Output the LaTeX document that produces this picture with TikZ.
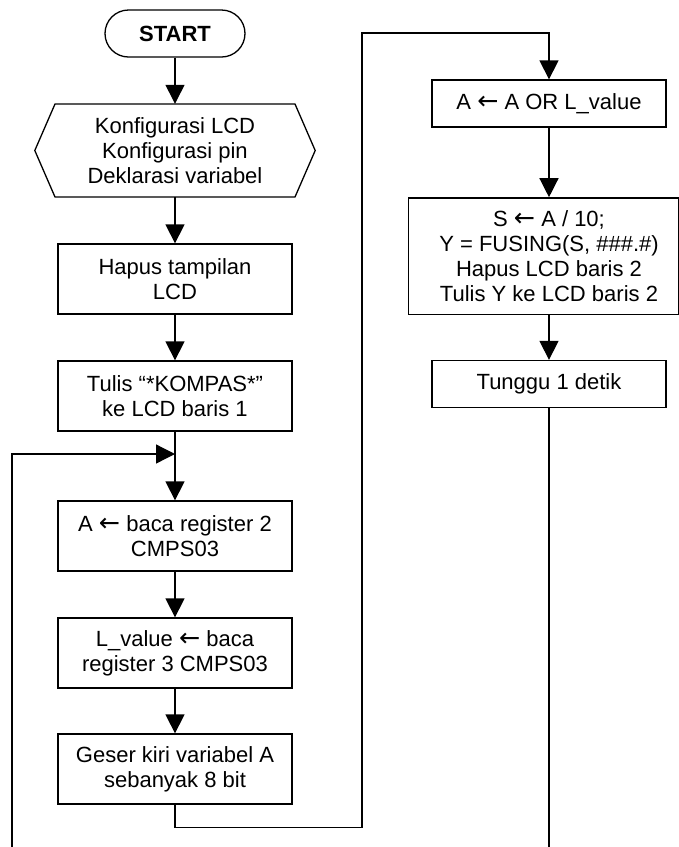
\documentclass[tikz,border=0pt]{standalone}
\usepackage{fontspec}
\setmainfont{Liberation Sans}
\newfontfamily\arrfont{DejaVu Sans}[Scale=1.15]
\newcommand{\larr}{{\arrfont ←}}
\usetikzlibrary{arrows.meta}
\begin{document}
\begin{tikzpicture}[x=1pt,y=-1pt,
  every node/.style={font=\fontsize{22}{25}\selectfont, align=center, inner sep=0pt},
  proc/.style={draw, line width=1.3pt, minimum width=234, minimum height=70},
  procs/.style={draw, line width=1.3pt, minimum width=234, minimum height=47},
  conn/.style={line width=1.3pt},
  arr/.style={conn, -{Triangle[length=19,width=19]}}]
\useasboundingbox (0,0) rectangle (679,847);

\node[draw, line width=1.3pt, rounded corners=23.5, minimum width=140, minimum height=47, font=\fontsize{22}{25}\selectfont\bfseries] (start) at (175,33.5) {START};

\node[minimum width=280, minimum height=93] (hex) at (175,150.5) {Konfigurasi LCD\\Konfigurasi pin\\Deklarasi variabel};
\draw[conn, line join=miter] (hex.west) -- (55,104) -- (295,104) -- (hex.east) -- (295,197) -- (55,197) -- cycle;

\node[proc] (hapus) at (175,279) {Hapus tampilan\\LCD};
\node[proc] (tulis) at (175,396) {Tulis “*KOMPAS*”\\ke LCD baris 1};
\node[proc] (abaca) at (175,536) {A \larr{} baca register 2\\CMPS03};
\node[proc] (lval) at (175,653) {L\_value \larr{} baca\\register 3 CMPS03};
\node[proc] (geser) at (175,769) {Geser kiri variabel A\\sebanyak 8 bit};

\node[procs] (aor) at (549,103.5) {A \larr{} A OR L\_value};
\node[draw, line width=1.3pt, minimum width=270.3, minimum height=116.3, anchor=west] (sbox) at (408,256) {};
\node (stext) at (549,256) {S \larr{} A / 10;\\Y = FUSING(S, \#\#\#.\#)\\Hapus LCD baris 2\\Tulis Y ke LCD baris 2};
\node[procs] (tunggu) at (549,384) {Tunggu 1 detik};

\coordinate (j) at (175,454);
\coordinate (bl) at (12,847);
\coordinate (c1) at (362,33);
\coordinate (br) at (549,847);

\draw[arr] (start.south) -- (hex.north);
\draw[arr] (hex.south) -- (hapus.north);
\draw[arr] (hapus.south) -- (tulis.north);
\draw[arr] (tulis.south) -- (abaca.north);
\draw[arr] (bl) |- (j);
\draw[arr] (abaca.south) -- (lval.north);
\draw[arr] (lval.south) -- (geser.north);
\draw[arr] (geser.south) -- ++(0,23) -| (c1) -| (aor.north);
\draw[arr] (aor.south) -- (aor.south |- sbox.north);
\draw[arr] (aor.south |- sbox.south) -- (tunggu.north);
\draw[conn] (tunggu.south) -- (br);
\end{tikzpicture}
\end{document}
